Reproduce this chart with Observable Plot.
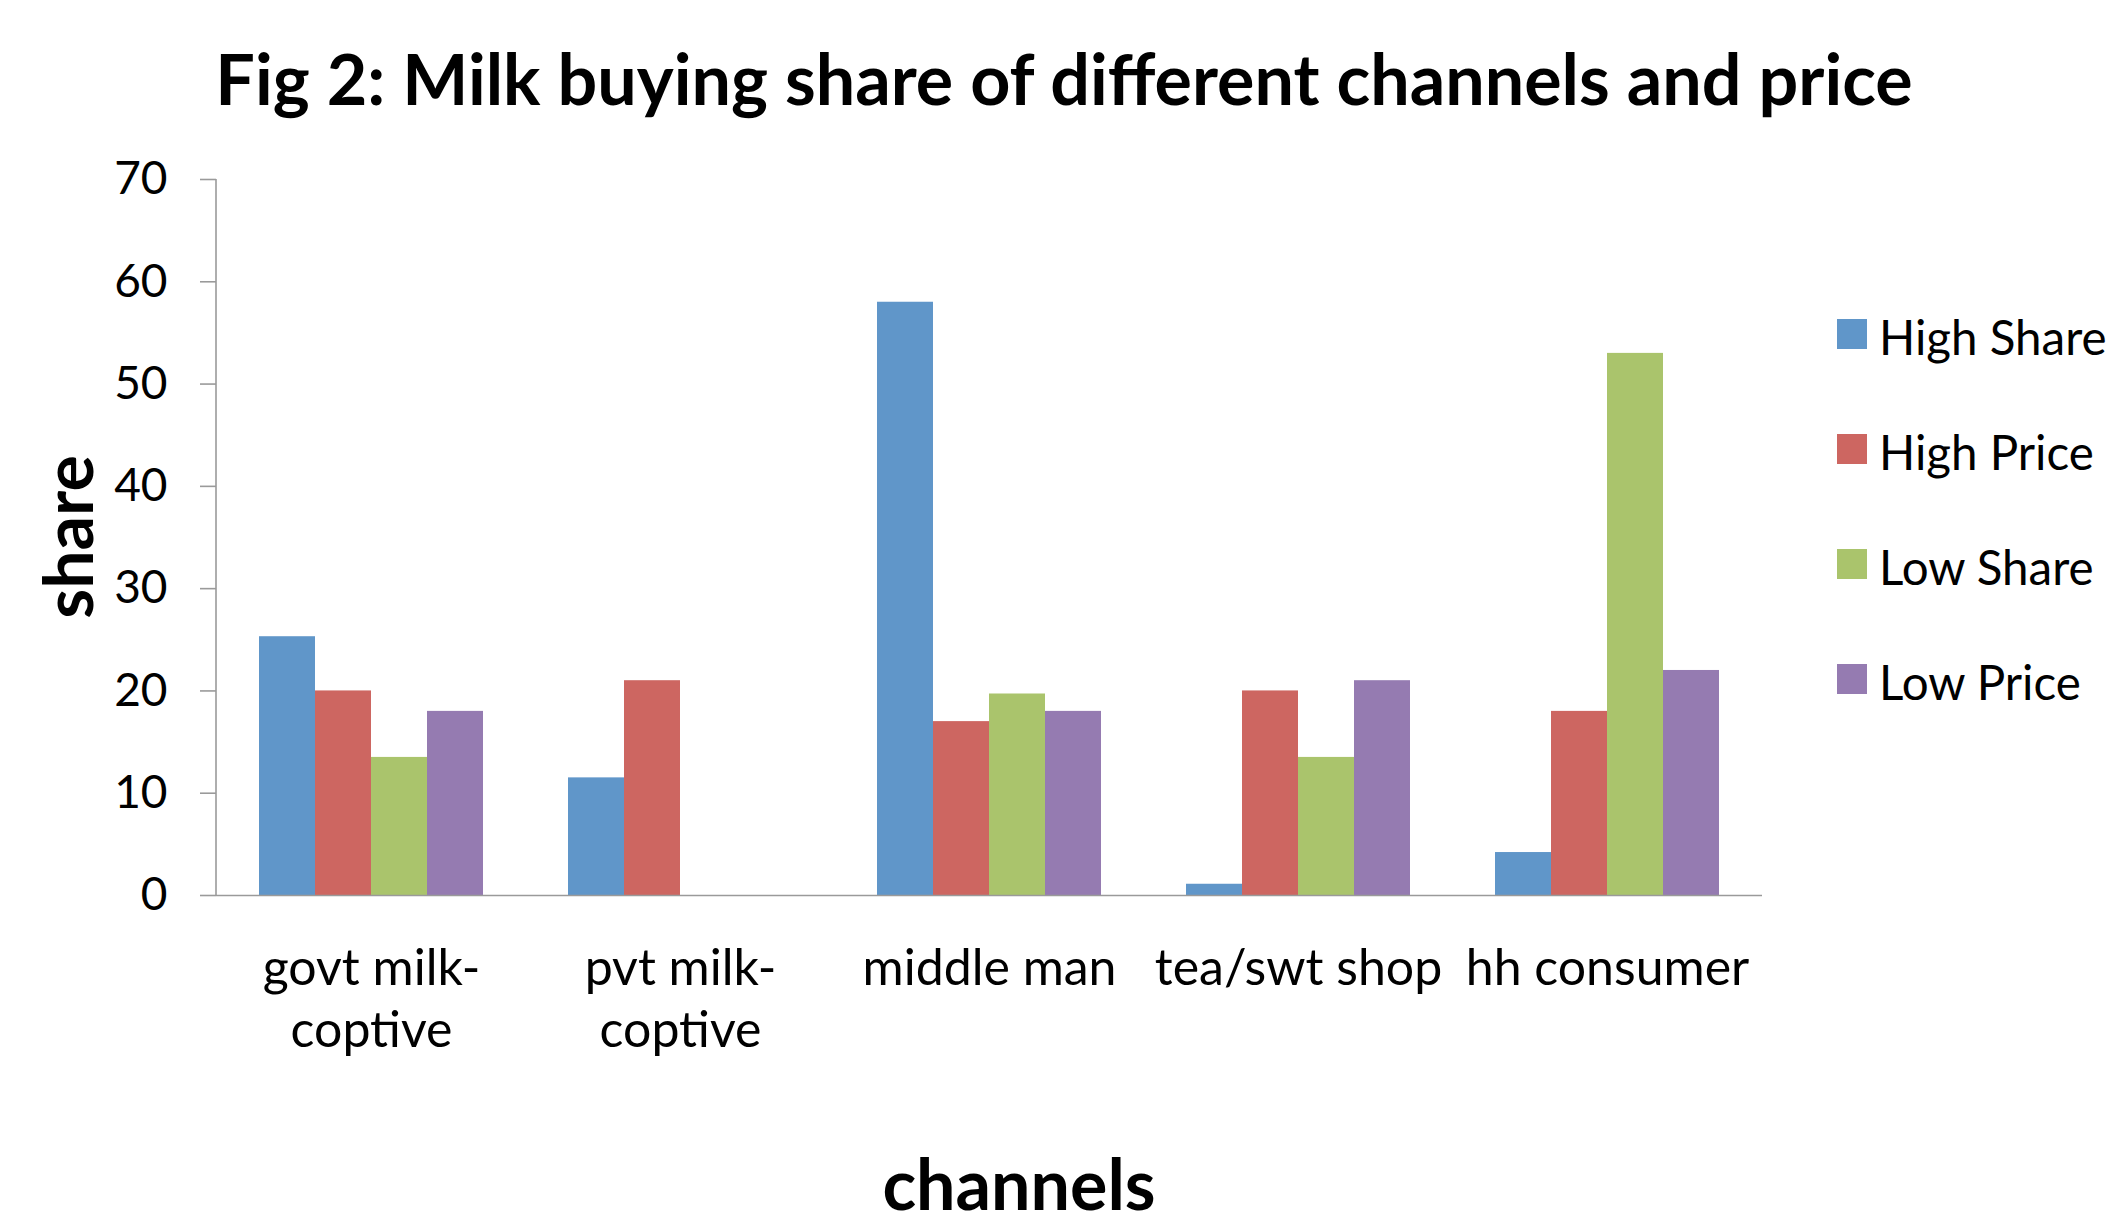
<!DOCTYPE html>
<html>
<head>
<meta charset="utf-8">
<script src="https://cdn.jsdelivr.net/npm/d3@7"></script>
<script src="https://cdn.jsdelivr.net/npm/@observablehq/plot@0.6"></script>
<style>
  html, body { margin: 0; padding: 0; background: #fff; }
  #wrap { position: relative; width: 2117px; height: 1225px; font-family: Lato, "Open Sans", sans-serif; color: #000; overflow: hidden; }
  #wrap svg { position: absolute; left: 0; top: 0; }
  .abs { position: absolute; white-space: nowrap; line-height: 1; }
</style>
</head>
<body>
<div id="wrap"></div>
<script>
// ---- data ----
const channels = ["govt milk-coptive", "pvt milk-coptive", "middle man", "tea/swt shop", "hh consumer"];
const channelLabels = ["govt milk-\ncoptive", "pvt milk-\ncoptive", "middle man", "tea/swt shop", "hh consumer"];
const series = ["High Share", "High Price", "Low Share", "Low Price"];
const highShare = [25.3, 11.5, 58, 1.1, 4.2];
const highPrice = [20, 21, 17, 20, 18];
const lowShare = [13.5, null, 19.7, 13.5, 53];
const lowPrice = [18, null, 18, 21, 22];
const colors = ["#6096C9", "#CD6661", "#AAC46C", "#957BB1"];
const yTicks = [0, 10, 20, 30, 40, 50, 60, 70];
const titleText = "Fig 2: Milk buying share of different channels and price";
const xTitle = "channels";
const yTitle = "share";

// ---- build table ----
const seriesValues = [highShare, highPrice, lowShare, lowPrice];
const rows = [];
series.forEach((s, si) => channels.forEach((c, ci) => {
  const v = seriesValues[si][ci];
  if (v != null) rows.push({channel: c, series: s, value: v});
}));

// ---- layout ----
const W = 2117, H = 1225;
const mL = 216, mR = 355, mT = 179, mB = 330;
const padInner = 0.2755, padOuter = 0.1378;
const band = d3.scaleBand().domain(channels).range([mL, W - mR]).paddingInner(padInner).paddingOuter(padOuter);
const sub = band.bandwidth() / series.length;
const axisColor = "#9a9a9a";

const marks = series.map((s, i) => Plot.barY(rows.filter(d => d.series === s), {
  x: "channel", y: "value", fill: "series",
  insetLeft: i * sub, insetRight: (series.length - 1 - i) * sub
}));
marks.push(Plot.ruleY([0], {stroke: axisColor, strokeWidth: 1.6}));
marks.push(Plot.axisY({ticks: yTicks, tickSize: 16, tickPadding: 33, stroke: axisColor, strokeWidth: 1.6, fontSize: 46, fill: "#000", label: null}));
marks.push(Plot.axisX({tickSize: 0, tickPadding: 46, fontSize: 50, lineHeight: 1.23, fill: "#000", label: null,
  tickFormat: d => channelLabels[channels.indexOf(d)]}));

const plot = Plot.plot({
  width: W, height: H,
  marginLeft: mL, marginRight: mR, marginTop: mT, marginBottom: mB,
  style: {fontFamily: "Lato, 'Open Sans', sans-serif", background: "transparent", color: "#000", overflow: "visible"},
  x: {domain: channels, paddingInner: padInner, paddingOuter: padOuter},
  y: {domain: [0, 70]},
  color: {domain: series, range: colors},
  marks
});

// y-axis line drawn from the plot's own y scale
const ys = plot.scale("y");
d3.select(plot).append("line")
  .attr("x1", mL).attr("x2", mL)
  .attr("y1", ys.apply(0)).attr("y2", ys.apply(70))
  .attr("stroke", axisColor).attr("stroke-width", 1.6);

const wrap = document.getElementById("wrap");
wrap.appendChild(plot);

function addText(txt, css) {
  const d = document.createElement("div");
  d.className = "abs";
  d.textContent = txt;
  Object.assign(d.style, css);
  wrap.appendChild(d);
  return d;
}
// title
addText(titleText, {left: "1064px", top: "43px", fontSize: "70px", fontWeight: "700", transform: "translateX(-50%)"});
// x title
addText(xTitle, {left: "1019px", top: "1155px", fontSize: "70px", lineHeight: "0.8", fontWeight: "700", transform: "translateX(-50%)"});
// y title
addText(yTitle, {left: "67px", top: "537px", fontSize: "68px", fontWeight: "700", transform: "translate(-50%,-50%) rotate(-90deg)"});

// legend
series.forEach((s, i) => {
  const cy = 334 + 115 * i;
  const sq = document.createElement("div");
  Object.assign(sq.style, {position: "absolute", left: "1837px", top: (cy - 15) + "px", width: "30px", height: "30px", background: colors[i]});
  wrap.appendChild(sq);
  addText(s, {left: "1879px", top: (cy + 21 - 42) + "px", fontSize: "47.5px"});
});
</script>
</body>
</html>
